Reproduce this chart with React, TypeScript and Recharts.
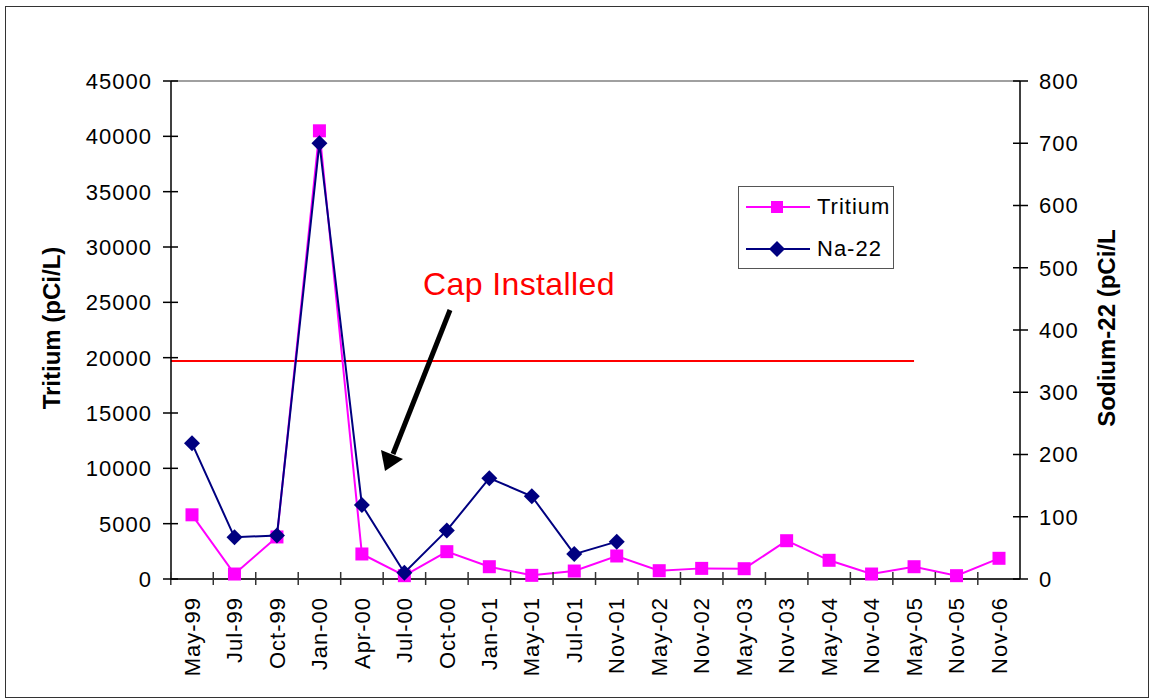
import React from 'react'
import { Legend, Line, LineChart, ReferenceLine, XAxis, YAxis } from 'recharts'

const months = [
    'May-99', 'Jul-99', 'Oct-99', 'Jan-00', 'Apr-00', 'Jul-00', 'Oct-00', 'Jan-01', 'May-01', 'Jul-01',
    'Nov-01', 'May-02', 'Nov-02', 'May-03', 'Nov-03', 'May-04', 'Nov-04', 'May-05', 'Nov-05', 'Nov-06',
]
const tritium = [
    5800, 450, 3800, 40500, 2260, 300, 2470, 1110, 330, 720,
    2080, 750, 960, 930, 3460, 1690, 450, 1110, 300, 1870,
]
const na22: (number | null)[] = [
    218, 67, 70, 700, 119, 10, 78, 162, 133, 40,
    60, null, null, null, null, null, null, null, null, null,
]
const tritiumTicks = [0, 5000, 10000, 15000, 20000, 25000, 30000, 35000, 40000, 45000]
const sodiumTicks = [0, 100, 200, 300, 400, 500, 600, 700, 800]
const capLevel = 19700
const capStart = 'May-99'
const capEnd = 'May-05'

const data = months.map((month, i) => ({ month, tritium: tritium[i], na22: na22[i] }))

const FONT = '"Liberation Sans", Arial, sans-serif'
const MAGENTA = '#FF00FF'
const NAVY = '#000080'
const HALF_BAND = 21.2

const SquareDot = (p: any) => {
    if (p.cy == null) return <g key={p.key} />
    return <rect key={p.key} x={p.cx - 6.5} y={p.cy - 6.5} width={13} height={13} fill={MAGENTA} />
}

const DiamondDot = (p: any) => {
    if (p.cy == null) return <g key={p.key} />
    const { cx, cy } = p
    return (
        <polygon
            key={p.key}
            points={`${cx},${cy - 8} ${cx + 8},${cy} ${cx},${cy + 8} ${cx - 8},${cy}`}
            fill={NAVY}
        />
    )
}

const MonthTick = ({ x, y, payload }: any) => (
    <g>
        <line x1={x - HALF_BAND} x2={x - HALF_BAND} y1={y - 25} y2={y - 12} stroke="#333" strokeWidth={1.5} />
        <text
            transform={`translate(${x},${y}) rotate(-90)`}
            textAnchor="end"
            dy="0.35em"
            fontSize={22}
            letterSpacing={1}
            fontFamily={FONT}
            fill="#000"
        >
            {payload.value}
        </text>
    </g>
)

const LeftTick = ({ x, y, payload }: any) => (
    <g>
        <line x1={x + 11} x2={x + 26} y1={y} y2={y} stroke="#000" strokeWidth={1.5} />
        <text x={x} y={y} dy="0.36em" textAnchor="end" fontSize={22} letterSpacing={1} fontFamily={FONT} fill="#000">
            {payload.value}
        </text>
    </g>
)

const RightTick = ({ x, y, payload }: any) => (
    <g>
        <line x1={x - 26} x2={x - 11} y1={y} y2={y} stroke="#000" strokeWidth={1.5} />
        <text x={x} y={y} dy="0.36em" textAnchor="start" fontSize={22} letterSpacing={1} fontFamily={FONT} fill="#000">
            {payload.value}
        </text>
    </g>
)

const AxisTitle = ({ viewBox, text, dx }: any) => {
    const cx = viewBox.x + dx
    const cy = viewBox.y + viewBox.height / 2 - 2
    return (
        <text
            transform={`translate(${cx},${cy}) rotate(-90)`}
            textAnchor="middle"
            dy="0.36em"
            fontSize={24}
            fontWeight="bold"
            fontFamily={FONT}
            fill="#000"
        >
            {text}
        </text>
    )
}

const CapLine = (p: any) => (
    <line x1={p.x1 - HALF_BAND} y1={p.y1} x2={p.x2} y2={p.y2} stroke="#FF0000" strokeWidth={2} />
)

const LegendBox = () => (
    <div
        style={{
            width: 154,
            height: 81,
            border: '1px solid #555',
            background: '#fff',
            fontFamily: FONT,
            fontSize: 22,
            letterSpacing: 1,
        }}
    >
        {[
            { name: 'Tritium', color: MAGENTA, shape: 'square' },
            { name: 'Na-22', color: NAVY, shape: 'diamond' },
        ].map((item, i) => (
            <div key={item.name} style={{ position: 'absolute', left: 8, top: 8 + i * 42, height: 26, display: 'flex', alignItems: 'center' }}>
                <svg width={66} height={26}>
                    <line x1={0} x2={64} y1={13} y2={13} stroke={item.color} strokeWidth={2} />
                    {item.shape === 'square' ? (
                        <rect x={25} y={7} width={12} height={12} fill={item.color} />
                    ) : (
                        <polygon points="31,5 39,13 31,21 23,13" fill={item.color} />
                    )}
                </svg>
                <span style={{ marginLeft: 5, color: '#000' }}>{item.name}</span>
            </div>
        ))}
    </div>
)

export default function App() {
    return (
        <div style={{ position: 'relative', width: 1150, height: 700, background: '#fff' }}>
            <style>{'body{margin:0}'}</style>
            <div
                style={{
                    position: 'absolute',
                    left: 5,
                    top: 6,
                    width: 1142,
                    height: 690,
                    border: '1px solid #333',
                    pointerEvents: 'none',
                }}
            />
            <LineChart width={1150} height={700} data={data} margin={{ top: 81, right: 0, bottom: 0, left: 0 }}>
                <XAxis
                    dataKey="month"
                    height={121}
                    interval={0}
                    tickSize={0}
                    tickMargin={18}
                    tickLine={false}
                    padding={{ left: 21, right: 21 }}
                    axisLine={{ stroke: '#333', strokeWidth: 2 }}
                    tick={<MonthTick />}
                />
                <YAxis
                    yAxisId="left"
                    width={171}
                    domain={[0, 45000]}
                    ticks={tritiumTicks}
                    interval={0}
                    tickSize={0}
                    tickMargin={19}
                    tickLine={false}
                    axisLine={{ stroke: '#000', strokeWidth: 1.5 }}
                    tick={<LeftTick />}
                    label={<AxisTitle text="Tritium (pCi/L)" dx={51} />}
                />
                <YAxis
                    yAxisId="right"
                    orientation="right"
                    width={130}
                    domain={[0, 800]}
                    ticks={sodiumTicks}
                    interval={0}
                    tickSize={0}
                    tickMargin={19}
                    tickLine={false}
                    axisLine={{ stroke: '#000', strokeWidth: 1.5 }}
                    tick={<RightTick />}
                    label={<AxisTitle text="Sodium-22 (pCi/L" dx={86} />}
                />
                <ReferenceLine yAxisId="left" y={45000} stroke="#808080" strokeWidth={1.5} />
                <ReferenceLine
                    yAxisId="left"
                    segment={[
                        { x: capStart, y: capLevel },
                        { x: capEnd, y: capLevel },
                    ]}
                    shape={<CapLine />}
                />
                <Line
                    yAxisId="left"
                    dataKey="tritium"
                    name="Tritium"
                    stroke={MAGENTA}
                    strokeWidth={2}
                    dot={<SquareDot />}
                    activeDot={false}
                    isAnimationActive={false}
                />
                <Line
                    yAxisId="right"
                    dataKey="na22"
                    name="Na-22"
                    stroke={NAVY}
                    strokeWidth={2}
                    dot={<DiamondDot />}
                    activeDot={false}
                    connectNulls={false}
                    isAnimationActive={false}
                />
                <Legend
                    layout="horizontal"
                    verticalAlign="middle"
                    align="center"
                    content={<LegendBox />}
                    wrapperStyle={{ left: 738, top: 186, width: 156, height: 83 }}
                />
            </LineChart>
            <svg
                width={1150}
                height={700}
                style={{ position: 'absolute', left: 0, top: 0, pointerEvents: 'none' }}
            >
                <text x={423} y={295} fontSize={32} letterSpacing={0.4} fontFamily={FONT} fill="#FF0000">
                    Cap Installed
                </text>
                <line x1={450} y1={310} x2={393} y2={454} stroke="#000" strokeWidth={5} />
                <polygon points="385,471 381,450 403,459" fill="#000" />
            </svg>
        </div>
    )
}
